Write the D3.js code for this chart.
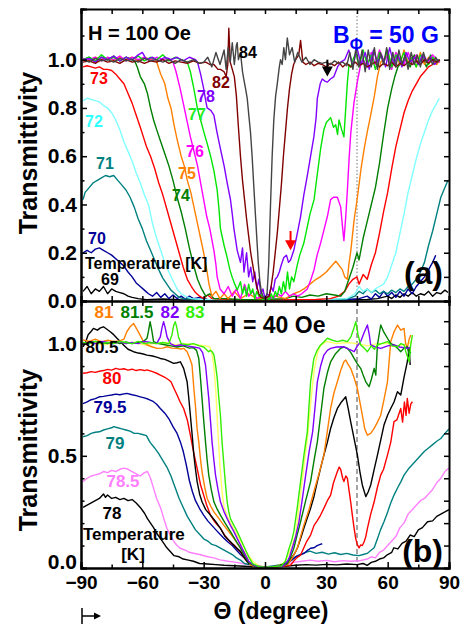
<!DOCTYPE html>
<html>
<head>
<meta charset="utf-8">
<script src="https://cdn.jsdelivr.net/npm/d3@7"></script>
<style>
body { margin: 0; background: #fff; }
text { font-family: Arial, "Liberation Sans", sans-serif; font-weight: bold; }
</style>
</head>
<body>
<svg id="chart" width="462" height="625"></svg>
<script>
// ---------- data: H = 100 Oe (top panel), [angle, transmittivity] ----------
var t69 = [[-89,0.04],[-87,0.06],[-85,0.03],[-83,0.05],[-81,0.04],[-79,0.06],[-77,0.03],[-75,0.05],[-73,0.04],[-71,0.035],[-69,0.03],[-67,0.02],[-65,0.015],[-62,0.01],[-58,0.005],[-50,0.008],[-40,0.004],[-30,0.006],[-20,0.003],[-10,0.004],[0,0.002],[10,0.004],[20,0.003],[30,0.005],[40,0.004],[50,0.006],[55,0.01],[60,0.02],[62,0.01],[64,0.025],[66,0.015],[68,0.03],[70,0.02],[72,0.035],[74,0.02],[76,0.03],[78,0.025],[80,0.04],[82,0.02],[84,0.035],[86,0.03],[88,0.045],[89.5,0.035]];
var t70 = [[-89,0.2],[-87,0.21],[-85,0.2],[-83,0.215],[-81,0.22],[-79,0.21],[-77,0.2],[-75,0.19],[-73,0.175],[-71,0.16],[-69,0.145],[-67,0.12],[-65,0.1],[-63,0.075],[-61,0.06],[-59,0.045],[-57,0.03],[-55,0.02],[-53,0.035],[-51,0.015],[-49,0.03],[-47,0.01],[-45,0.025],[-43,0.01],[-41,0.02],[-39,0.008],[-37,0.02],[-35,0.01],[-32,0.015],[-28,0.005],[-20,0.004],[-10,0.003],[0,0.002],[10,0.003],[20,0.004],[30,0.005],[40,0.006],[46,0.01],[50,0.02],[52,0.008],[54,0.03],[56,0.015],[58,0.04],[60,0.02],[62,0.035],[64,0.015],[66,0.04],[68,0.02],[70,0.05],[72,0.03],[74,0.06],[76,0.08],[78,0.1],[80,0.13],[82,0.16],[83.5,0.19]];
var t71 = [[-89,0.42],[-88,0.45],[-86,0.47],[-84,0.49],[-82,0.5],[-80,0.51],[-78,0.52],[-76,0.515],[-74,0.52],[-72,0.5],[-70,0.48],[-68,0.46],[-66,0.43],[-64,0.39],[-62,0.34],[-60,0.3],[-58,0.25],[-56,0.21],[-54,0.17],[-52,0.13],[-50,0.095],[-48,0.07],[-46,0.045],[-44,0.03],[-42,0.015],[-40,0.01],[-35,0.008],[-30,0.005],[-20,0.004],[-10,0.003],[0,0.003],[10,0.003],[20,0.004],[30,0.005],[40,0.008],[44,0.02],[46,0.04],[48,0.03],[50,0.05],[52,0.035],[54,0.045],[56,0.03],[58,0.04],[60,0.03],[62,0.045],[64,0.035],[66,0.05],[68,0.04],[70,0.06],[72,0.07],[74,0.09],[76,0.12],[78,0.16],[80,0.23],[82,0.29],[84,0.36],[86,0.43],[88,0.47],[89.5,0.5]];
var t72 = [[-89,0.83],[-87,0.84],[-85,0.835],[-83,0.83],[-81,0.825],[-79,0.81],[-77,0.8],[-75,0.78],[-73,0.75],[-71,0.71],[-69,0.66],[-67,0.62],[-65,0.58],[-63,0.53],[-61,0.49],[-59,0.44],[-57,0.4],[-55,0.32],[-53,0.26],[-51,0.21],[-49,0.16],[-47,0.12],[-45,0.085],[-43,0.05],[-41,0.03],[-39,0.02],[-36,0.01],[-30,0.006],[-20,0.004],[0,0.003],[20,0.004],[40,0.01],[44,0.03],[46,0.06],[48,0.04],[50,0.05],[52,0.035],[54,0.05],[56,0.06],[58,0.07],[60,0.1],[62,0.15],[64,0.2],[66,0.28],[68,0.36],[70,0.45],[72,0.52],[74,0.59],[76,0.65],[78,0.7],[80,0.75],[82,0.79],[84,0.82],[85.3,0.84]];
var t73 = [[-89,0.97],[-87,0.975],[-85,0.97],[-83,0.965],[-81,0.97],[-79,0.96],[-77,0.96],[-75,0.955],[-73,0.94],[-71,0.92],[-69,0.9],[-67,0.86],[-65,0.82],[-63,0.77],[-61,0.72],[-59.5,0.68],[-58,0.64],[-56,0.6],[-54,0.55],[-52,0.49],[-50,0.44],[-48,0.38],[-46,0.32],[-44,0.26],[-42,0.2],[-40,0.14],[-38,0.09],[-36,0.06],[-34,0.035],[-32,0.02],[-30,0.01],[-28,0.025],[-26,0.01],[-22,0.008],[-15,0.005],[-5,0.004],[5,0.004],[15,0.005],[25,0.006],[32,0.01],[36,0.02],[39,0.04],[41,0.07],[43,0.09],[45,0.1],[46,0.07],[48,0.11],[50,0.09],[52,0.15],[54,0.2],[56,0.28],[58,0.37],[60,0.45],[62,0.55],[64,0.64],[66,0.71],[68,0.78],[70,0.83],[72,0.87],[74,0.9],[76,0.93],[78,0.95],[80,0.97],[82,0.98],[84,1.0],[85.5,0.99]];
var t74 = [[-89,1.0],[-86,1.01],[-83,0.995],[-80,1.01],[-77,1.0],[-74,1.015],[-71,0.995],[-68,1.01],[-65,1.0],[-63.5,0.99],[-62.5,0.97],[-61,0.93],[-59,0.9],[-57.5,0.86],[-56,0.8],[-54.5,0.75],[-53,0.71],[-51,0.66],[-49,0.61],[-47,0.56],[-45,0.5],[-43,0.43],[-41,0.37],[-39,0.3],[-37,0.22],[-35,0.15],[-33,0.09],[-31,0.05],[-29,0.02],[-27,0.03],[-25,0.01],[-20,0.01],[-12,0.006],[-5,0.005],[5,0.008],[10,0.01],[14,0.02],[18,0.015],[22,0.025],[26,0.02],[30,0.03],[34,0.025],[37,0.02],[39,0.04],[41,0.09],[43,0.14],[45,0.2],[46,0.17],[48,0.26],[50,0.33],[52,0.4],[54,0.47],[56,0.57],[58,0.69],[60,0.8],[62,0.88],[63.5,0.93],[65,0.97],[67,0.99],[69,1.0],[71,0.97],[73,1.02],[75,0.98],[77,1.01],[79,0.97],[81,1.02],[83,0.99],[85,1.0]];
var t75 = [[-89,1.0],[-86,0.995],[-83,1.01],[-80,1.0],[-77,1.005],[-74,0.995],[-71,1.01],[-68,1.0],[-65,1.01],[-62,0.995],[-59,1.01],[-56,1.0],[-54,1.005],[-53,0.99],[-51,0.94],[-49,0.9],[-47.5,0.84],[-46,0.8],[-44.5,0.73],[-43,0.67],[-41,0.6],[-39.5,0.56],[-38,0.5],[-36.3,0.45],[-34.5,0.38],[-33,0.32],[-31.5,0.26],[-30,0.2],[-28.5,0.13],[-27.4,0.07],[-26,0.02],[-24,0.04],[-22,0.01],[-20,0.03],[-18,0.01],[-15,0.04],[-12,0.01],[-8,0.03],[-4,0.01],[0,0.01],[5,0.02],[10,0.01],[14,0.03],[17,0.04],[19,0.05],[22,0.07],[25,0.09],[27,0.1],[30,0.12],[32,0.14],[34.6,0.165],[36,0.15],[37.8,0.13],[39,0.1],[40.3,0.09],[41,0.15],[42,0.21],[43.5,0.33],[45.2,0.43],[47,0.55],[48.5,0.63],[50,0.7],[51.7,0.77],[53.5,0.85],[55,0.93],[56.6,0.99],[58,1.0],[60,1.03],[62,0.97],[64,1.02],[66,0.98],[68,1.04],[70,0.99],[72,1.01],[74,0.97],[76,1.03],[78,0.98],[80,1.01],[82,1.0],[84,0.98],[85.5,1.0]];
var t76 = [[-89,1.005],[-86,1.0],[-83,1.01],[-80,0.995],[-77,1.01],[-74,1.0],[-71,1.015],[-68,0.995],[-65,1.01],[-62,1.0],[-59,1.01],[-56,0.995],[-53,1.01],[-50,1.0],[-47,1.005],[-45,0.99],[-43.5,0.95],[-41.5,0.88],[-39.5,0.8],[-38,0.74],[-36.5,0.68],[-35,0.63],[-33,0.56],[-31.5,0.49],[-30,0.42],[-28.5,0.35],[-27,0.3],[-25,0.21],[-24,0.15],[-23.4,0.1],[-22,0.05],[-20,0.03],[-18,0.06],[-16,0.02],[-14,0.05],[-12,0.01],[-10,0.07],[-8,0.02],[-6,0.04],[-4,0.01],[-2,0.02],[0,0.005],[2,0.02],[4,0.01],[6,0.03],[8,0.02],[10,0.04],[12,0.02],[14,0.03],[16,0.02],[18,0.03],[20.7,0.05],[22.5,0.09],[24,0.13],[25.5,0.19],[27.2,0.24],[29,0.3],[30.5,0.35],[32.1,0.42],[33.5,0.43],[35.4,0.43],[37,0.39],[38,0.3],[38.6,0.25],[39.5,0.35],[40.3,0.46],[41.2,0.6],[42,0.7],[43.5,0.82],[45.2,0.91],[46.8,0.98],[48,1.0],[50,0.97],[52,1.03],[54,0.98],[56,1.04],[58,0.99],[60,1.02],[62,0.96],[64,1.03],[66,1.0],[68,0.98],[70,1.03],[72,0.99],[74,1.02],[76,0.98],[78,1.01],[80,0.99],[82,1.02],[84,1.0],[85.5,0.99]];
var t77 = [[-89,1.0],[-86,1.01],[-83,0.995],[-80,1.02],[-77,1.0],[-74,1.01],[-71,0.995],[-68,1.01],[-65,1.0],[-62,1.015],[-59,0.995],[-56,1.01],[-53,1.0],[-50,1.02],[-47,0.995],[-44,1.01],[-41,1.0],[-38,0.99],[-36.5,0.95],[-34.8,0.88],[-33.1,0.8],[-31.5,0.75],[-29.9,0.7],[-28.2,0.65],[-26.6,0.6],[-25,0.54],[-23.4,0.46],[-22.5,0.38],[-21.8,0.3],[-20,0.23],[-18.5,0.18],[-17.2,0.13],[-16.1,0.1],[-14.8,0.07],[-13.6,0.046],[-12,0.08],[-11,0.03],[-10,0.06],[-9,0.02],[-8,0.07],[-7,0.03],[-6,0.05],[-5,0.01],[-4,0.04],[-3,0.02],[-2,0.03],[-1,0.005],[0,0.01],[1,0.02],[2,0.005],[3,0.03],[4,0.01],[5,0.04],[6,0.02],[7,0.06],[8,0.03],[9,0.08],[10,0.04],[11,0.12],[12,0.05],[13,0.1],[14.1,0.08],[15.8,0.15],[17,0.19],[19,0.24],[20.5,0.3],[22,0.36],[24,0.42],[25.5,0.52],[27.2,0.63],[28.8,0.71],[30,0.74],[32.1,0.76],[33.5,0.72],[34.6,0.73],[35.5,0.69],[36.2,0.75],[37.5,0.71],[38.6,0.68],[39.5,0.8],[40.3,0.907],[41.1,0.98],[42,0.97],[43,1.0],[44.5,1.03],[46,0.97],[48,1.04],[50,0.98],[52,1.02],[54,0.96],[56,1.03],[58,0.99],[60,1.04],[62,0.97],[64,1.02],[66,0.99],[68,1.03],[70,0.98],[72,1.01],[74,0.97],[76,1.02],[78,1.0],[80,0.98],[82,1.01],[84,0.99],[85.5,1.0]];
var t78 = [[-89,1.0],[-86,1.005],[-83,0.99],[-80,1.01],[-77,1.0],[-74,1.015],[-71,0.995],[-68,1.01],[-65,1.0],[-62,1.02],[-60,1.03],[-58,1.0],[-55,1.01],[-52,0.995],[-49,1.01],[-46,1.0],[-43,1.01],[-40,0.995],[-37,1.01],[-34,1.0],[-33,0.99],[-31.5,0.94],[-30,0.88],[-29,0.83],[-28.3,0.8],[-26.5,0.79],[-25,0.77],[-23.5,0.7],[-21.8,0.63],[-20,0.56],[-18.5,0.49],[-16.9,0.42],[-16,0.36],[-15.2,0.3],[-13.6,0.21],[-12,0.16],[-11,0.22],[-10.3,0.12],[-9,0.2],[-8,0.1],[-7,0.14],[-6,0.08],[-5,0.12],[-4,0.05],[-3,0.09],[-2,0.03],[-1,0.05],[0,0.01],[1,0.03],[2,0.02],[3,0.06],[4,0.04],[5,0.09],[6,0.1],[7,0.12],[8,0.15],[9.2,0.18],[10.5,0.19],[11.5,0.16],[12.5,0.17],[14.1,0.21],[15.8,0.28],[17.4,0.35],[19,0.44],[20.7,0.52],[22.3,0.6],[23.9,0.68],[25,0.76],[25.6,0.84],[27,0.9],[28,0.92],[29.5,0.91],[30.5,0.907],[32,0.92],[33.7,0.93],[35.5,0.97],[37,0.99],[39,1.0],[41,1.04],[43,0.97],[45,1.05],[47,0.98],[49,1.03],[51,0.96],[53,1.04],[55,0.99],[57,1.02],[59,0.97],[61,1.05],[63,0.98],[65,1.02],[67,0.97],[69,1.03],[71,0.99],[73,1.01],[75,0.98],[77,1.02],[79,0.99],[81,1.01],[83,0.98],[85,1.0]];
var t82 = [[-89,0.99],[-86,0.995],[-83,0.985],[-80,1.0],[-77,0.99],[-74,0.995],[-71,0.985],[-68,1.0],[-65,0.99],[-62,0.995],[-59,0.985],[-56,0.995],[-53,0.99],[-50,1.0],[-47,0.985],[-44,0.995],[-41,0.99],[-38,0.985],[-35,0.995],[-32,0.985],[-29,0.99],[-27,0.98],[-25,0.98],[-23,0.96],[-21.8,0.96],[-20,0.95],[-19,0.93],[-18.2,0.98],[-17.7,1.13],[-17,0.99],[-16,0.96],[-15,0.93],[-14,0.85],[-13,0.72],[-12,0.6],[-11,0.5],[-10,0.42],[-9,0.34],[-8,0.27],[-7,0.2],[-6,0.15],[-5,0.1],[-4,0.06],[-3,0.03],[-2,0.015],[0,0.01],[2,0.02],[3,0.06],[4,0.12],[5,0.2],[6,0.28],[7,0.38],[8,0.48],[9,0.6],[10,0.7],[11,0.8],[12,0.88],[13,0.94],[14,0.98],[15,1.0],[16.5,1.02],[17.4,1.08],[18.5,0.99],[20,0.98],[22,0.99],[24,0.975],[26,0.985],[28,0.98],[30,0.97],[32,0.985],[34,0.975],[36,0.99],[38,0.97],[40,0.985],[42,0.97],[44,0.99],[46,0.975],[48,0.985],[50,0.97],[52,0.98],[54,0.99],[56,0.97],[58,0.985],[60,0.975],[62,0.99],[64,0.97],[66,0.985],[68,0.975],[70,0.99],[72,0.98],[74,0.995],[76,0.98],[78,1.0],[80,0.985],[82,1.0],[84,0.99],[85.5,1.0]];
var t84 = [[-89,1.0],[-86,0.99],[-83,1.005],[-80,0.995],[-77,1.0],[-74,0.99],[-71,1.005],[-68,0.995],[-65,1.0],[-62,0.99],[-59,1.005],[-56,0.995],[-53,1.0],[-50,0.99],[-47,1.0],[-44,0.985],[-41,1.0],[-38,0.99],[-35,1.0],[-32,0.985],[-30,0.99],[-28,1.01],[-26,0.97],[-24,1.03],[-22,0.98],[-20,1.04],[-19,0.96],[-18,1.05],[-17,0.99],[-16,1.07],[-15,0.98],[-14,1.06],[-13.6,1.07],[-13,1.0],[-12,1.03],[-11,0.95],[-10.4,0.92],[-9.5,0.88],[-8.7,0.84],[-7.8,0.76],[-7.1,0.7],[-6.3,0.6],[-5.5,0.48],[-4.7,0.36],[-4,0.26],[-3.3,0.16],[-2.5,0.08],[-1.8,0.04],[-1,0.02],[0,0.01],[1,0.03],[1.8,0.15],[2.7,0.4],[3.5,0.6],[4.3,0.75],[5.2,0.85],[6,0.9],[7,0.97],[7.6,1.0],[8.4,0.98],[9.2,1.05],[10,1.0],[10.9,1.09],[12,1.02],[13.3,1.05],[14.5,0.99],[16,1.03],[18,0.99],[20,1.01],[22,0.98],[24,1.0],[26,0.99],[28,0.985],[30,0.99],[32,0.98],[34,0.995],[36,0.985],[38,0.99],[40,0.975],[41.5,1.03],[43,0.96],[44.5,1.05],[46,0.97],[47.5,1.04],[49,0.95],[50.5,1.04],[52,0.97],[53.5,1.05],[55,0.96],[56.5,1.03],[58,0.98],[59.5,1.05],[61,0.96],[62.5,1.03],[64,0.97],[65.5,1.04],[67,0.98],[68.5,1.02],[70,0.96],[71.5,1.03],[73,0.98],[74.5,1.02],[76,0.97],[77.5,1.03],[79,0.99],[80.5,1.01],[82,0.98],[83.5,1.01],[85,0.99]];

// ---------- data: H = 40 Oe (bottom panel) ----------
var b78 = [[-89,0.27],[-87,0.28],[-85,0.29],[-83,0.3],[-81,0.31],[-79,0.33],[-78,0.315],[-77,0.325],[-75,0.31],[-73,0.315],[-71,0.305],[-69,0.31],[-67,0.3],[-65,0.305],[-63,0.29],[-61,0.27],[-59,0.245],[-57.5,0.22],[-56,0.2],[-54.5,0.18],[-53,0.155],[-51,0.13],[-49.5,0.11],[-48,0.09],[-46,0.07],[-44.5,0.055],[-42,0.05],[-40,0.04],[-38,0.036],[-35,0.03],[-32,0.02],[-28,0.018],[-24,0.015],[-20,0.012],[-15,0.01],[-10,0.008],[-5,0.005],[0,0.004],[5,0.005],[10,0.008],[15,0.012],[20,0.015],[25,0.013],[30,0.016],[35,0.014],[40,0.018],[45,0.015],[48,0.02],[50,0.012],[52,0.025],[54,0.03],[56,0.04],[58,0.045],[60,0.06],[62,0.07],[63,0.09],[65,0.085],[67,0.11],[69,0.12],[71,0.147],[73,0.14],[75,0.17],[77,0.18],[79.5,0.206],[82,0.21],[84,0.23],[86,0.24],[88,0.25],[90,0.26]];
var b785 = [[-89,0.385],[-87,0.4],[-85,0.41],[-83,0.415],[-81,0.42],[-79,0.43],[-77,0.425],[-75,0.435],[-73,0.43],[-71,0.44],[-69,0.445],[-67,0.44],[-65,0.43],[-63,0.42],[-61,0.41],[-59,0.425],[-57.5,0.43],[-56,0.4],[-54.5,0.355],[-53,0.31],[-51,0.266],[-49.5,0.22],[-48,0.177],[-46,0.14],[-44.5,0.117],[-43,0.1],[-41.5,0.088],[-39,0.08],[-37,0.07],[-35,0.066],[-32,0.06],[-28,0.05],[-25,0.045],[-22,0.036],[-18,0.03],[-14,0.025],[-10,0.018],[-5,0.01],[0,0.005],[5,0.008],[10,0.015],[14,0.025],[18,0.03],[22,0.035],[26,0.03],[30,0.034],[34,0.028],[38,0.033],[42,0.03],[46,0.032],[50,0.04],[52,0.05],[54,0.045],[56,0.07],[58,0.08],[60,0.1],[62,0.12],[64,0.14],[66,0.18],[68,0.2],[70,0.24],[72,0.26],[74,0.28],[76,0.3],[78,0.31],[80,0.33],[82,0.35],[84,0.38],[86,0.4],[88,0.43],[90,0.445]];
var b79 = [[-89,0.585],[-87,0.59],[-85,0.6],[-83,0.605],[-81,0.607],[-79,0.615],[-77,0.62],[-75,0.625],[-74,0.63],[-72,0.625],[-70,0.62],[-68,0.615],[-66,0.61],[-64,0.6],[-62,0.6],[-60,0.595],[-58,0.59],[-56.2,0.56],[-54,0.535],[-52,0.51],[-50,0.48],[-48,0.45],[-46,0.41],[-44,0.36],[-42,0.31],[-40,0.27],[-38,0.23],[-36,0.2],[-34,0.17],[-32,0.15],[-30,0.13],[-28,0.12],[-26,0.105],[-24,0.1],[-22,0.09],[-20,0.08],[-18,0.07],[-16,0.06],[-14,0.045],[-12,0.035],[-10,0.02],[-8,0.015],[-4,0.01],[0,0.005],[5,0.01],[10,0.02],[13,0.035],[15,0.05],[17,0.06],[20,0.07],[22,0.075],[25,0.065],[28,0.07],[31,0.062],[34,0.068],[37,0.06],[40,0.065],[43,0.058],[46,0.055],[48,0.06],[50,0.065],[52,0.08],[53.4,0.09],[55,0.13],[56.5,0.17],[58.2,0.206],[60,0.25],[61.5,0.29],[63.1,0.325],[65,0.36],[66.5,0.385],[68,0.414],[70,0.44],[72,0.46],[74,0.48],[76,0.5],[78,0.52],[80,0.535],[82,0.55],[84,0.565],[86,0.577],[88,0.6],[90,0.62]];
var b795 = [[-89,0.733],[-87,0.74],[-85,0.75],[-83,0.755],[-81,0.763],[-79,0.765],[-77,0.768],[-75,0.771],[-73,0.775],[-71,0.772],[-69,0.776],[-67.6,0.778],[-65,0.772],[-63,0.768],[-61,0.763],[-59,0.758],[-57,0.752],[-55,0.744],[-53,0.73],[-51.2,0.711],[-49,0.69],[-47,0.665],[-45,0.63],[-43,0.6],[-41.4,0.562],[-40,0.52],[-38.5,0.46],[-37,0.39],[-35.5,0.34],[-34,0.3],[-32,0.265],[-30,0.236],[-28,0.21],[-26,0.19],[-24,0.17],[-22,0.15],[-20,0.132],[-18,0.115],[-16,0.1],[-14,0.08],[-12,0.06],[-10,0.043],[-8,0.025],[-6,0.012],[-3,0.005],[0,0.004],[4,0.006],[8,0.01],[11,0.02],[13,0.035],[15,0.05],[17.4,0.058],[19,0.065],[21,0.08],[22.3,0.088],[24,0.09],[25.5,0.1],[27,0.105],[28,0.108]];
var b80 = [[-89,0.868],[-87,0.87],[-85,0.875],[-83,0.872],[-81,0.877],[-79,0.88],[-77,0.885],[-75,0.882],[-73,0.89],[-71,0.885],[-69,0.888],[-67,0.882],[-65,0.886],[-63,0.88],[-61,0.884],[-59,0.88],[-57.7,0.883],[-55,0.875],[-53,0.868],[-51.2,0.86],[-49,0.85],[-47,0.838],[-46,0.83],[-44.5,0.8],[-43,0.771],[-41.5,0.74],[-39.8,0.711],[-38,0.66],[-36.5,0.592],[-35,0.52],[-33.2,0.444],[-31.5,0.37],[-30,0.325],[-28.5,0.28],[-26.7,0.236],[-24.5,0.205],[-21.8,0.177],[-20,0.15],[-18.5,0.132],[-16.5,0.11],[-15.2,0.103],[-13.5,0.085],[-12,0.073],[-10.5,0.05],[-8.7,0.028],[-6,0.012],[-3,0.005],[0,0.004],[4,0.006],[8,0.008],[10.5,0.01],[12.5,0.013],[14,0.03],[15.5,0.045],[17.4,0.058],[19,0.09],[20.5,0.12],[22.3,0.147],[24,0.19],[25.5,0.21],[27.2,0.236],[29,0.27],[30.5,0.3],[32.1,0.325],[33.5,0.38],[35.4,0.43],[36.3,0.45],[37,0.44],[38,0.4],[38.6,0.385],[39.5,0.41],[40.3,0.4],[41.2,0.34],[41.9,0.295],[42.8,0.23],[43.6,0.177],[44.4,0.13],[45.2,0.103],[46,0.09],[46.8,0.103],[47.6,0.1],[48.5,0.117],[49.3,0.14],[50.1,0.177],[51.7,0.24],[53.4,0.295],[55,0.36],[56.6,0.414],[58,0.44],[59.9,0.503],[61.5,0.56],[63.1,0.652],[64.5,0.66],[66.4,0.711],[67.3,0.65],[68.2,0.74],[69,0.68],[69.6,0.756],[70.5,0.69],[71.3,0.73],[72.1,0.741]];
var b805 = [[-89,0.986],[-88,1.0],[-86.5,1.04],[-85,1.055],[-83.9,1.068],[-82,1.06],[-80.5,1.07],[-79,1.075],[-77.5,1.065],[-75.7,1.053],[-74,1.04],[-72.4,1.024],[-70.8,1.01],[-69.2,0.994],[-67,0.975],[-64.3,0.964],[-62,0.958],[-60,0.955],[-57.7,0.949],[-55,0.945],[-53,0.94],[-51.2,0.934],[-49,0.93],[-47,0.922],[-44.7,0.912],[-43,0.915],[-41.4,0.919],[-39.8,0.89],[-38.1,0.83],[-37.3,0.76],[-36.5,0.681],[-35.6,0.59],[-34.8,0.503],[-34,0.44],[-33.2,0.385],[-32,0.33],[-30.8,0.295],[-29,0.26],[-26.7,0.236],[-24,0.205],[-21.8,0.177],[-19.5,0.14],[-16.9,0.117],[-14.5,0.095],[-12,0.073],[-10,0.045],[-8,0.02],[-5,0.008],[-2,0.004],[2,0.004],[6,0.008],[10,0.02],[12.5,0.04],[14.2,0.06],[15.8,0.088],[17.4,0.13],[19,0.177],[20.6,0.22],[22.3,0.266],[24,0.32],[25.6,0.385],[27.2,0.445],[28.8,0.503],[30.5,0.56],[32.1,0.622],[33.7,0.67],[35.4,0.711],[37.4,0.74],[39.5,0.763],[40.7,0.71],[41.9,0.652],[43.5,0.58],[45.2,0.503],[46.4,0.43],[47.6,0.37],[49.3,0.318],[50.5,0.34],[51.7,0.37],[53.4,0.44],[55,0.503],[56.6,0.57],[58.2,0.637],[59.9,0.68],[61.5,0.711],[63.1,0.74],[64.8,0.786],[66.4,0.771],[68,0.85],[69.6,0.919],[70.5,0.979],[71,0.905]];
var b81 = [[-89,1.016],[-86,1.01],[-83,1.02],[-80,1.008],[-77,1.015],[-74,1.01],[-71,1.012],[-69,1.02],[-67.6,1.053],[-66,1.075],[-64.3,1.09],[-62.7,1.065],[-61.1,1.038],[-59.5,1.01],[-57.7,0.994],[-55,0.985],[-52.8,0.979],[-50,0.98],[-47.9,0.986],[-45.5,0.98],[-43.1,0.979],[-41,0.976],[-39.8,0.979],[-38.1,0.964],[-36.8,0.935],[-35.7,0.905],[-34.8,0.8],[-34,0.72],[-33.2,0.62],[-32.4,0.562],[-31.5,0.48],[-30.8,0.43],[-29.5,0.36],[-28.3,0.31],[-26.5,0.275],[-25,0.25],[-22.5,0.22],[-20.1,0.19],[-17.5,0.16],[-15.2,0.132],[-12.8,0.1],[-10.3,0.073],[-8.5,0.04],[-7.1,0.013],[-4,0.005],[0,0.004],[4,0.005],[8,0.008],[11,0.015],[13,0.04],[14.5,0.065],[15.8,0.088],[17.4,0.14],[19,0.191],[21.5,0.26],[23.9,0.34],[26.4,0.42],[28.8,0.503],[30.5,0.61],[32.1,0.711],[33.7,0.78],[35.4,0.83],[37,0.88],[38.6,0.919],[39.5,0.927],[40.5,0.91],[41.9,0.89],[43.5,0.85],[45.2,0.8],[46.4,0.74],[47.6,0.681],[48.8,0.62],[50.1,0.592],[51.7,0.6],[53.4,0.622],[55,0.65],[56.6,0.681],[58.2,0.75],[59.9,0.83],[60.7,0.92],[61.5,1.009],[63,1.05],[64.8,1.083],[66.4,1.06],[68,1.068],[68.8,1.0],[69.6,0.979],[70.5,1.02],[71.3,1.038]];
var b815 = [[-89,1.005],[-86,1.0],[-83,1.01],[-80,1.005],[-77,1.0],[-74,1.01],[-71,1.0],[-68,1.008],[-65,1.0],[-62,1.005],[-59.4,1.01],[-57.7,1.024],[-56.9,1.06],[-56.2,1.098],[-55.4,1.06],[-54.5,1.009],[-52,1.0],[-49,0.995],[-46,0.99],[-43,0.985],[-40,0.99],[-37,0.98],[-35,0.982],[-33.5,0.97],[-32.4,0.934],[-31.6,0.85],[-30.8,0.756],[-30,0.66],[-29.1,0.562],[-28.3,0.48],[-27.5,0.414],[-26.3,0.35],[-25,0.295],[-23.4,0.262],[-21.8,0.236],[-19.5,0.2],[-16.9,0.162],[-14.5,0.125],[-12,0.088],[-10,0.055],[-8,0.025],[-5,0.008],[0,0.004],[5,0.006],[9,0.01],[11,0.02],[12.5,0.05],[14.1,0.088],[15.8,0.15],[17.4,0.206],[19.9,0.3],[22.3,0.385],[24,0.48],[25.6,0.562],[27.2,0.68],[28.8,0.8],[30.5,0.87],[32.1,0.919],[34.5,0.955],[37,0.979],[38.6,0.985],[40.3,0.979],[42,0.96],[43.6,0.934],[45.2,0.91],[46.8,0.89],[48,0.86],[49.3,0.83],[50.9,0.808],[52,0.84],[53.4,0.89],[54.2,0.86],[55,0.994],[56.6,1.083],[58.2,1.05],[59.9,1.024],[61.5,1.0],[63.1,0.994],[64.8,0.98],[66.4,0.964],[68,0.98],[69.6,0.986],[70.5,0.95],[71.3,0.964]];
var b82 = [[-89,1.0],[-86,1.005],[-83,1.0],[-80,1.01],[-77,1.005],[-74,1.0],[-71,1.008],[-68,1.0],[-65,1.005],[-62,1.0],[-59,1.01],[-56,1.005],[-53,1.0],[-51.2,1.03],[-50.4,1.07],[-49.6,1.098],[-48.8,1.07],[-47.9,1.03],[-46.3,1.0],[-44,0.99],[-41,0.995],[-38,0.99],[-35,0.985],[-32,0.98],[-30.5,0.96],[-29.1,0.905],[-28.3,0.83],[-27.5,0.756],[-26.7,0.66],[-25.9,0.562],[-25,0.48],[-24.2,0.414],[-23,0.35],[-21.8,0.295],[-20,0.25],[-18.5,0.22],[-16.9,0.19],[-15.2,0.162],[-13.5,0.13],[-12,0.103],[-10,0.065],[-8,0.03],[-5,0.01],[0,0.004],[5,0.006],[9,0.01],[11,0.03],[12,0.05],[13.3,0.088],[15,0.14],[16.6,0.206],[18.3,0.31],[19.9,0.414],[21.6,0.52],[23.3,0.607],[24.5,0.72],[25.6,0.83],[27.2,0.9],[28.8,0.949],[30.5,0.97],[32.1,0.979],[35,0.985],[38.6,0.986],[41,0.975],[43.6,0.964],[45.2,0.99],[46.8,1.009],[48.5,1.05],[50.1,1.083],[51,1.04],[51.7,0.994],[54,0.985],[56.6,0.979],[60,0.99],[63.1,0.994],[66,0.985],[69.6,0.979],[71.3,0.986]];
var b825 = [[-89,1.0],[-84,1.005],[-79,0.995],[-74,1.005],[-69,1.0],[-64,1.005],[-59,0.995],[-54,1.0],[-49,1.005],[-44,0.995],[-39,1.0],[-34,0.995],[-29,0.99],[-27,0.985],[-26,0.96],[-25,0.9],[-24,0.78],[-23,0.6],[-22,0.45],[-21,0.34],[-20,0.27],[-18,0.22],[-15,0.17],[-12,0.12],[-9,0.07],[-6,0.03],[-3,0.01],[0,0.004],[5,0.006],[9,0.02],[11,0.05],[13,0.09],[15,0.15],[17,0.3],[19,0.45],[21,0.6],[22.5,0.75],[24,0.88],[25.5,0.95],[27,0.99],[30,1.01],[35,1.0],[40,1.005],[45,1.0],[50,0.99],[55,1.0],[60,1.0],[65,0.99],[70,1.0],[72,1.01]];
var b83 = [[-89,1.005],[-86,1.0],[-83,1.01],[-80,1.0],[-77,1.005],[-74,1.0],[-71,1.01],[-68,1.005],[-65,1.0],[-62,1.01],[-59,1.0],[-56,1.005],[-53,1.0],[-50,1.005],[-47,1.0],[-45.5,1.04],[-44.7,1.08],[-43.9,1.098],[-43.1,1.07],[-42.3,1.03],[-41,1.0],[-38,0.995],[-35,1.0],[-32,0.99],[-30,0.985],[-28.3,0.97],[-27.5,0.964],[-26.7,0.97],[-25.9,0.964],[-25,0.95],[-24.2,0.905],[-23.4,0.85],[-22.6,0.76],[-21.8,0.681],[-21,0.56],[-20.1,0.459],[-19.3,0.37],[-18.5,0.295],[-17.7,0.25],[-16.9,0.22],[-15.2,0.19],[-13.6,0.162],[-12,0.13],[-10,0.09],[-8,0.05],[-6,0.02],[-3,0.006],[0,0.004],[4,0.006],[8,0.01],[10,0.03],[11.8,0.088],[13,0.12],[14.1,0.162],[15.8,0.27],[17.4,0.385],[19,0.5],[20.7,0.607],[21.5,0.72],[22.3,0.83],[23.9,0.934],[25.5,0.97],[27.2,0.994],[29,1.01],[30.5,1.024],[33,1.015],[35.4,1.009],[38,1.015],[40.3,1.009],[42,1.03],[43.5,1.07],[44.4,1.098],[45.5,1.04],[46.8,0.994],[48.5,0.98],[50.1,0.964],[52,0.99],[53.5,0.975],[55,0.994],[57,1.0],[59.9,1.009],[62,0.99],[64.8,0.986],[66.5,1.0],[68,0.994],[69,0.96],[70.5,0.919],[71.2,0.99],[72.1,1.038]];

// tick values
var xMajor = [-90, -60, -30, 0, 30, 60, 90];
var xMinor = [-75, -45, -15, 15, 45, 75];
var yTopMajor = [0, 0.2, 0.4, 0.6, 0.8, 1.0];
var yTopMinor = [0.1, 0.3, 0.5, 0.7, 0.9, 1.1];
var yBotMajor = [0, 0.5, 1.0];
var yBotMinor = [0.1, 0.2, 0.3, 0.4, 0.6, 0.7, 0.8, 0.9, 1.1];

// ---------- layout ----------
var svg = d3.select("#chart");
var left = 81, right = 449;
var x = d3.scaleLinear().domain([-90, 90]).range([left, right]);
var yTop = d3.scaleLinear().domain([0, 1.21]).range([301, 9]);
var yBot = d3.scaleLinear().domain([0, 1.19]).range([568, 301]);

var defs = svg.append("defs");
defs.append("clipPath").attr("id", "clipTop").append("rect")
    .attr("x", left).attr("y", 9).attr("width", right - left).attr("height", 292);
defs.append("clipPath").attr("id", "clipBot").append("rect")
    .attr("x", left).attr("y", 301).attr("width", right - left).attr("height", 267);

function drawPanel(series, y, clip) {
    var line = d3.line()
        .x(function(d) { return x(d[0]); })
        .y(function(d) { return y(d[1]); });
    var g = svg.append("g").attr("clip-path", "url(#" + clip + ")");
    series.forEach(function(s) {
        g.append("path")
            .datum(s.data)
            .attr("fill", "none")
            .attr("stroke", s.color)
            .attr("stroke-width", 1.4)
            .attr("stroke-linejoin", "round")
            .attr("d", line);
    });
    return g;
}

// reference lines at 45 degrees
svg.append("line")
    .attr("x1", x(45)).attr("x2", x(45)).attr("y1", yTop(1.21)).attr("y2", yTop(0))
    .attr("stroke", "#777").attr("stroke-width", 1).attr("stroke-dasharray", "1.5,2");
svg.append("line")
    .attr("x1", x(45)).attr("x2", x(45)).attr("y1", yBot(1.19)).attr("y2", yBot(0))
    .attr("stroke", "#888").attr("stroke-width", 1.5).attr("stroke-dasharray", "5,3");

drawPanel([
    {data: t69, color: "#000000"},
    {data: t70, color: "#000099"},
    {data: t71, color: "#008080"},
    {data: t72, color: "#80ffff"},
    {data: t73, color: "#ff0000"},
    {data: t74, color: "#007f00"},
    {data: t75, color: "#ff8000"},
    {data: t76, color: "#ff00ff"},
    {data: t77, color: "#00e600"},
    {data: t78, color: "#8000ff"},
    {data: t82, color: "#800000"},
    {data: t84, color: "#444444"}
], yTop, "clipTop");

drawPanel([
    {data: b78, color: "#000000"},
    {data: b785, color: "#ff80ff"},
    {data: b79, color: "#008080"},
    {data: b795, color: "#000099"},
    {data: b825, color: "#ffff66"},
    {data: b80, color: "#ff0000"},
    {data: b805, color: "#000000"},
    {data: b81, color: "#ff8000"},
    {data: b815, color: "#007f00"},
    {data: b82, color: "#8000ff"},
    {data: b83, color: "#33ee00"}
], yBot, "clipBot");

// arrows in top panel
function arrow(deg, v0, v1, color) {
    var xa = x(deg), ya = yTop(v0), yb = yTop(v1);
    svg.append("line").attr("x1", xa).attr("x2", xa).attr("y1", ya).attr("y2", yb - 8)
        .attr("stroke", color).attr("stroke-width", 2);
    svg.append("path")
        .attr("d", "M" + (xa - 5.5) + "," + (yb - 10) + "L" + (xa + 5.5) + "," + (yb - 10) + "L" + xa + "," + yb + "Z")
        .attr("fill", color);
}
arrow(30.5, 1.0, 0.93, "#000");
arrow(12.5, 0.29, 0.21, "#ff0000");

// ---------- axes ----------
function styleAxis(g) {
    g.select(".domain").attr("stroke-width", 2);
    g.selectAll(".tick line").attr("stroke-width", 1.5);
    g.selectAll("text").attr("font-family", "Arial, 'Liberation Sans', sans-serif")
        .attr("font-weight", "bold").attr("fill", "#000");
}

// top panel
svg.append("g").attr("transform", "translate(" + left + ",0)")
    .call(d3.axisLeft(yTop).tickValues(yTopMajor).tickSize(-6).tickPadding(4).tickFormat(d3.format(".1f")))
    .call(styleAxis).attr("font-size", 21);
svg.append("g").attr("transform", "translate(" + left + ",0)")
    .call(d3.axisLeft(yTop).tickValues(yTopMinor).tickSize(-3.5).tickFormat(""))
    .call(styleAxis);
svg.append("g").attr("transform", "translate(" + right + ",0)")
    .call(d3.axisRight(yTop).tickValues(yTopMajor.concat(yTopMinor)).tickSize(-5).tickFormat(""))
    .call(styleAxis);
svg.append("g").attr("transform", "translate(0," + yTop(1.21) + ")")
    .call(d3.axisTop(x).tickValues(xMajor.concat(xMinor)).tickSize(-5).tickFormat(""))
    .call(styleAxis);
svg.append("g").attr("transform", "translate(0," + yTop(0) + ")")
    .call(d3.axisBottom(x).tickValues(xMajor.concat(xMinor)).tickSize(-5).tickFormat(""))
    .call(styleAxis);

// bottom panel
var yBotAxis = svg.append("g").attr("transform", "translate(" + left + ",0)")
    .call(d3.axisLeft(yBot).tickValues(yBotMajor).tickSize(-6).tickPadding(4).tickFormat(d3.format(".1f")))
    .call(styleAxis).attr("font-size", 21);
// the lowest label sits a little above the corner, clear of the x labels
yBotAxis.selectAll(".tick").filter(function(d) { return d === 0; })
    .select("text").attr("y", -6);
svg.append("g").attr("transform", "translate(" + left + ",0)")
    .call(d3.axisLeft(yBot).tickValues(yBotMinor).tickSize(-3.5).tickFormat(""))
    .call(styleAxis);
svg.append("g").attr("transform", "translate(" + right + ",0)")
    .call(d3.axisRight(yBot).tickValues(yBotMajor.concat(yBotMinor)).tickSize(-5).tickFormat(""))
    .call(styleAxis);
svg.append("g").attr("transform", "translate(0," + yBot(1.19) + ")")
    .call(d3.axisTop(x).tickValues(xMajor.concat(xMinor)).tickSize(-5).tickFormat(""))
    .call(styleAxis);
svg.append("g").attr("transform", "translate(0," + yBot(0) + ")")
    .call(d3.axisBottom(x).tickValues(xMajor).tickSize(-6).tickPadding(8).tickFormat(d3.format("d")))
    .call(styleAxis).attr("font-size", 19);
svg.append("g").attr("transform", "translate(0," + yBot(0) + ")")
    .call(d3.axisBottom(x).tickValues(xMinor).tickSize(-3.5).tickFormat(""))
    .call(styleAxis);

// axis titles
svg.append("text")
    .attr("transform", "translate(37,153) rotate(-90)")
    .attr("text-anchor", "middle")
    .style("font-size", "25px")
    .text("Transmittivity");
svg.append("text")
    .attr("transform", "translate(37,450) rotate(-90)")
    .attr("text-anchor", "middle")
    .style("font-size", "25px")
    .text("Transmittivity");
svg.append("text")
    .attr("x", 271).attr("y", 619)
    .attr("text-anchor", "middle")
    .style("font-size", "23px")
    .text("Θ (degree)");

// small start marker under the axis
svg.append("line").attr("x1", 82).attr("x2", 82).attr("y1", 608).attr("y2", 624)
    .attr("stroke", "#000").attr("stroke-width", 1.5);
svg.append("line").attr("x1", 82).attr("x2", 95).attr("y1", 616).attr("y2", 616)
    .attr("stroke", "#000").attr("stroke-width", 1.5);
svg.append("path").attr("d", "M94,612.5L101,616L94,619.5Z").attr("fill", "#000");

// ---------- annotations ----------
function label(txt, px, py, color, size, anchor) {
    return svg.append("text").attr("x", px).attr("y", py)
        .attr("text-anchor", anchor || "middle")
        .attr("fill", color).style("font-size", size + "px")
        .text(txt);
}
label("H = 100 Oe", 88, 40, "#000", 20, "start");
var bphi = svg.append("text").attr("x", 333).attr("y", 43).attr("fill", "#0000ff").style("font-size", "23px");
bphi.append("tspan").text("B");
bphi.append("tspan").attr("dy", 7).style("font-size", "16px").text("Φ");
bphi.append("tspan").attr("dy", -7).text(" = 50 G");
label("(a)", 443, 284, "#000", 32, "end");
label("H = 40 Oe", 220, 333, "#000", 23, "start");
label("(b)", 443, 562, "#000", 32, "end");

// temperature labels, top panel
label("73", 99, 84, "#ff0000", 16);
label("72", 94, 127, "#33ffff", 16);
label("71", 105, 169, "#008080", 16);
label("70", 97, 244, "#000099", 16);
label("69", 110, 285, "#000", 16);
label("74", 181, 201, "#007f00", 16);
label("75", 187, 179, "#ff8000", 16);
label("76", 195, 157, "#ff00ff", 16);
label("77", 197, 120, "#22ee22", 16);
label("78", 206, 102, "#8000ff", 16);
label("82", 221, 88, "#800000", 16);
label("84", 248, 58, "#000", 16);
label("Temperature [K]", 85, 269, "#000", 16, "start");

// temperature labels, bottom panel
label("81", 104, 318, "#ff8000", 17);
label("81.5", 137, 318, "#007f00", 17);
label("82", 170, 318, "#8000ff", 17);
label("83", 195, 318, "#33ee00", 17);
label("80.5", 102, 353, "#000", 17);
label("80", 112, 384, "#ff0000", 17);
label("79.5", 110, 413, "#000099", 17);
label("79", 115, 449, "#008080", 17);
label("78.5", 123, 487, "#ff80ff", 17);
label("78", 112, 519, "#000", 17);
label("Temperature", 83, 540, "#000", 17, "start");
label("[K]", 133, 560, "#000", 17);
</script>
</body>
</html>
